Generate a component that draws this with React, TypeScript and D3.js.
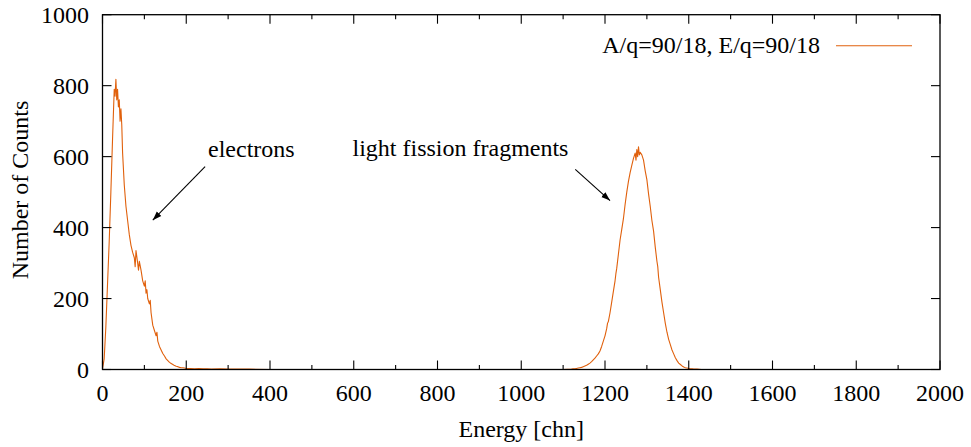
import React from "react";
import * as d3 from "d3";

// Histogram: energy channel vs counts
const channels: number[] = [
  0, 4, 8, 12, 16, 20, 24, 28, 30, 32, 34, 36, 38, 40, 42, 44, 46, 48, 52, 56, 60, 64, 68, 72, 76, 78, 80, 84, 86, 88, 92, 96,
  100, 102, 104, 106, 108, 112, 114, 116, 120, 124, 128, 130, 132, 136, 140, 144, 148, 152, 156, 160, 164, 168, 172, 176,
  180, 184, 188, 192, 196, 200, 210, 220, 230, 240, 250, 260, 280, 300, 350, 400, 500, 600, 700, 800,
  900, 1000, 1100, 1120, 1124, 1128, 1132, 1136, 1140, 1144, 1148, 1152, 1156, 1160, 1164, 1168, 1172,
  1176, 1180, 1184, 1188, 1192, 1196, 1200, 1204, 1206, 1208, 1212, 1216, 1220, 1224, 1226, 1228, 1232, 1236, 1240,
  1244, 1248, 1252, 1256, 1260, 1264, 1268, 1272, 1274, 1276, 1278, 1280, 1282, 1284, 1288, 1292, 1296, 1300,
  1304, 1308, 1312, 1316, 1320, 1324, 1326, 1328, 1332, 1336, 1340, 1344, 1348, 1352, 1356, 1360, 1364, 1368,
  1372, 1376, 1380, 1384, 1388, 1392, 1396, 1400, 1404, 1408, 1412, 1420, 1430, 1440, 1500, 1600, 1700,
  1800, 1900, 2000,
];
const counts: number[] = [
  2, 30, 120, 240, 360, 500, 650, 790, 770, 818, 760, 790, 740, 760, 700, 735, 690, 610, 520, 460, 420, 380, 350, 330, 315, 290, 335, 300, 280, 305, 280, 250,
  235, 250, 215, 225, 200, 185, 195, 160, 125, 110, 95, 105, 80, 65, 55, 45, 38, 30, 25, 20, 17, 14, 11, 9,
  8, 6, 5, 5, 4, 3, 3, 2, 3, 2, 2, 1, 2, 1, 1, 0, 0, 0, 0, 0,
  0, 0, 0, 1, 2, 2, 3, 4, 5, 6, 8, 10, 12, 15, 18, 22, 27,
  32, 38, 44, 52, 65, 80, 95, 115, 130, 135, 160, 190, 220, 250, 270, 285, 325, 365, 395,
  425, 465, 500, 530, 555, 575, 595, 610, 590, 620, 600, 628, 605, 612, 605, 590, 560, 535,
  495, 460, 420, 390, 345, 305, 290, 260, 225, 190, 160, 130, 105, 85, 70, 55, 44, 33,
  25, 18, 14, 10, 7, 5, 4, 3, 2, 2, 1, 1, 0, 0, 0, 0, 0,
  0, 0, 0,
];

const xTicks: number[] = [0, 200, 400, 600, 800, 1000, 1200, 1400, 1600, 1800, 2000];
const xMinorTicks: number[] = [100, 300, 500, 700, 900, 1100, 1300, 1500, 1700, 1900];
const yTicks: number[] = [0, 200, 400, 600, 800, 1000];

const seriesLabel = "A/q=90/18, E/q=90/18";
const xTitle = "Energy [chn]";
const yTitle = "Number of Counts";
const annotations = [
  { text: "electrons", x: 252, y: 600, fromX: 245, fromY: 572, toX: 120, toY: 421 },
  { text: "light fission fragments", x: 597, y: 601, fromX: 1129, fromY: 564, toX: 1212, toY: 476 },
];

const W = 971;
const H = 447;
const left = 102.5;
const right = 940;
const top = 14.7;
const bottom = 369.5;
const color = "#e0600c";
const font = '"Liberation Serif", "Times New Roman", "DejaVu Serif", serif';
const fs = 24;
const ts: React.CSSProperties = { fontFamily: font, fontSize: fs };

export default function App() {
  const x = d3.scaleLinear().domain([0, 2000]).range([left, right]);
  const y = d3.scaleLinear().domain([0, 1000]).range([bottom, top]);
  const data = channels.map((c, i) => [c, counts[i]] as [number, number]);
  const line = d3
    .line<[number, number]>()
    .x((d) => x(d[0]))
    .y((d) => y(d[1]));

  return (
    <div style={{ position: "absolute", left: 0, top: 0 }}>
      <svg width={W} height={H} style={{ display: "block", background: "#fff" }}>
        <defs>
          <marker id="ah" viewBox="0 0 10 10" refX="10" refY="5" markerWidth="9" markerHeight="9" orient="auto" markerUnits="userSpaceOnUse">
            <path d="M0,1.5 L10,5 L0,8.5 z" fill="#000" />
          </marker>
        </defs>
        <path d={line(data) ?? ""} fill="none" stroke={color} strokeWidth={1.1} strokeLinejoin="round" />
        <rect x={left} y={top} width={right - left} height={bottom - top} fill="none" stroke="#000" strokeWidth={1.3} />
        {xTicks.map((t) => (
          <g key={"xt" + t}>
            <line x1={x(t)} x2={x(t)} y1={bottom} y2={bottom - 9} stroke="#000" strokeWidth={1.1} />
            <line x1={x(t)} x2={x(t)} y1={top} y2={top + 9} stroke="#000" strokeWidth={1.1} />
            <text x={x(t)} y={401} textAnchor="middle" style={ts}>{t}</text>
          </g>
        ))}
        {xMinorTicks.map((t) => (
          <g key={"xm" + t}>
            <line x1={x(t)} x2={x(t)} y1={bottom} y2={bottom - 4.5} stroke="#000" strokeWidth={1.1} />
            <line x1={x(t)} x2={x(t)} y1={top} y2={top + 4.5} stroke="#000" strokeWidth={1.1} />
          </g>
        ))}
        {yTicks.map((t) => (
          <g key={"yt" + t}>
            <line x1={left} x2={left + 9} y1={y(t)} y2={y(t)} stroke="#000" strokeWidth={1.1} />
            <line x1={right} x2={right - 9} y1={y(t)} y2={y(t)} stroke="#000" strokeWidth={1.1} />
            <text x={89} y={y(t) + 8} textAnchor="end" style={ts}>{t}</text>
          </g>
        ))}
        <text x={(left + right) / 2} y={437} textAnchor="middle" style={ts}>{xTitle}</text>
        <text transform={`translate(28,190) rotate(-90)`} textAnchor="middle" style={ts}>{yTitle}</text>
        <text x={820} y={52.5} textAnchor="end" style={ts}>{seriesLabel}</text>
        <line x1={836} x2={912} y1={45.7} y2={45.7} stroke={color} strokeWidth={1.1} />
        {annotations.map((a) => (
          <g key={a.text}>
            <text x={x(a.x)} y={y(a.y)} style={ts}>{a.text}</text>
            <line x1={x(a.fromX)} y1={y(a.fromY)} x2={x(a.toX)} y2={y(a.toY)} stroke="#000" strokeWidth={1.1} markerEnd="url(#ah)" />
          </g>
        ))}
      </svg>
    </div>
  );
}
